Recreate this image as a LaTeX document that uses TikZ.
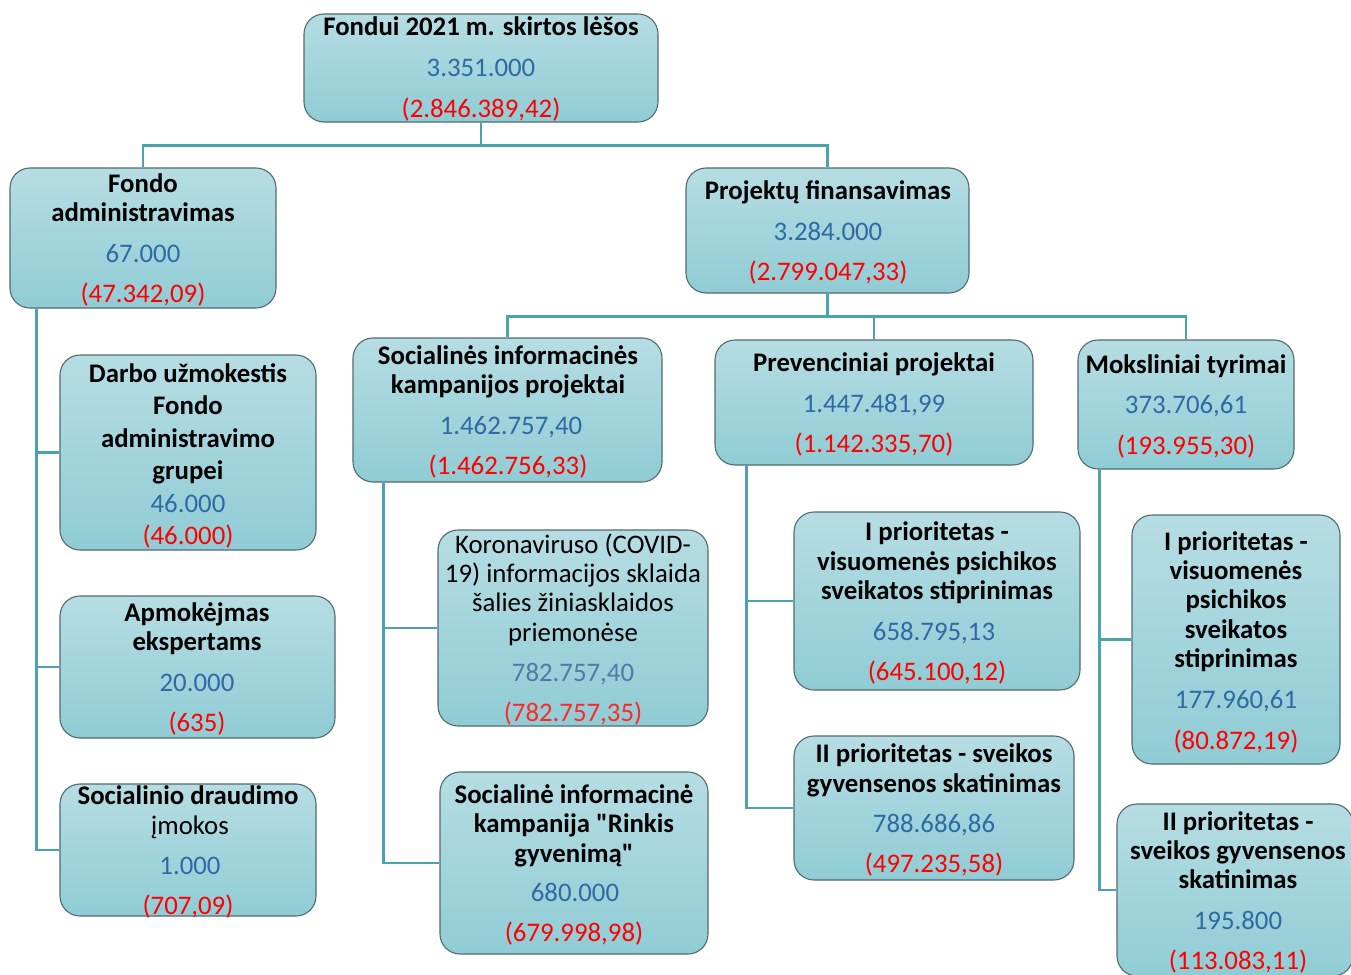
\documentclass[tikz,border=0pt]{standalone}
\usepackage{fontspec}
\setmainfont{Carlito}
\definecolor{boxtop}{RGB}{182,221,227}
\definecolor{boxbot}{RGB}{144,204,213}
\definecolor{bordc}{RGB}{80,108,112}
\definecolor{connc}{RGB}{75,163,174}
\definecolor{valblue}{RGB}{46,106,164}
\definecolor{valblue2}{RGB}{74,124,164}
\definecolor{valred}{RGB}{255,0,0}
\definecolor{valred2}{RGB}{255,40,40}
\begin{document}
\begin{tikzpicture}[x=1pt,y=-1pt,
  box/.style={draw=bordc, line width=1.1pt, rounded corners=20pt, top color=boxtop, bottom color=boxbot, inner sep=0pt},
  conn/.style={draw=connc, line width=2.6pt},
  txt/.style={anchor=base, yshift=-9pt, inner sep=0pt, font=\fontsize{26.8}{29}\selectfont},
  tb/.style={txt, font=\fontsize{26.8}{29}\selectfont\bfseries, text=black},
  tr/.style={txt, text=black},
  vb/.style={txt, text=valblue},
  vr/.style={txt, text=valred},
  vb2/.style={txt, text=valblue2},
  vr2/.style={txt, text=valred2}]
\useasboundingbox (0,0) rectangle (1351,974);
\clip (0,0) rectangle (1351,974);
% boxes
\node[box, minimum width=354pt, minimum height=108pt] (b1) at (481,68) {};
\node[box, minimum width=266pt, minimum height=140pt] (b2) at (143,238) {};
\node[box, minimum width=283pt, minimum height=125pt] (b3) at (827.5,230.5) {};
\node[box, minimum width=256pt, minimum height=195pt] (b4) at (188,452.5) {};
\node[box, minimum width=275pt, minimum height=142pt] (b5) at (197.5,667) {};
\node[box, minimum width=256pt, minimum height=132pt] (b6) at (188,850) {};
\node[box, minimum width=309pt, minimum height=144pt] (b7) at (507.5,410) {};
\node[box, minimum width=318pt, minimum height=125pt] (b8) at (874,402.5) {};
\node[box, minimum width=216pt, minimum height=129pt] (b9) at (1186,404.5) {};
\node[box, minimum width=270pt, minimum height=196pt] (b10) at (573,628) {};
\node[box, minimum width=268pt, minimum height=182pt] (b11) at (574,863) {};
\node[box, minimum width=286pt, minimum height=178pt] (b12) at (937,601) {};
\node[box, minimum width=280pt, minimum height=144pt] (b13) at (934,808) {};
\node[box, minimum width=208pt, minimum height=249pt] (b14) at (1236,639.5) {};
\node[box, minimum width=236pt, minimum height=172pt] (b15) at (1235,890) {};
% connectors
\draw[conn] (b1.south) -- ++(0,23) -| (b2.north);
\draw[conn] (b1.south) -- ++(0,23) -| (b3.north);
\draw[conn] (b3.south) -- ++(0,23) -| (b7.north);
\draw[conn] (b3.south) -- ++(0,23) -| (b8.north);
\draw[conn] (b3.south) -- ++(0,23) -| (b9.north);
\draw[conn] ([xshift=27pt]b2.south west) |- (b4.west);
\draw[conn] ([xshift=27pt]b2.south west) |- (b5.west);
\draw[conn] ([xshift=27pt]b2.south west) |- (b6.west);
\draw[conn] ([xshift=31pt]b7.south west) |- (b10.west);
\draw[conn] ([xshift=31pt]b7.south west) |- (b11.west);
\draw[conn] ([xshift=32pt]b8.south west) |- (b12.west);
\draw[conn] ([xshift=32pt]b8.south west) |- (b13.west);
\draw[conn] ([xshift=22pt]b9.south west) |- (b14.west);
\draw[conn] ([xshift=22pt]b9.south west) |- (b15.west);
% texts
\node[tb] (b1a) at (481,27) {Fondui 2021 m. skirtos lėšos};
\node[vb] (b1b) at (481,68) {3.351.000};
\node[vr] (b1c) at (481,108) {(2.846.389,42)};
\node[tb] (b2a) at (143,183) {Fondo};
\node[tb] (b2b) at (143,212) {administravimas};
\node[vb] (b2c) at (143,253) {67.000};
\node[vr] (b2d) at (143,293) {(47.342,09)};
\node[tb] (b3a) at (828,190) {Projektų finansavimas};
\node[vb] (b3b) at (828,231) {3.284.000};
\node[vr] (b3c) at (828,271) {(2.799.047,33)};
\node[tb] (b4a) at (188,373) {Darbo užmokestis};
\node[tb] (b4b) at (188,405) {Fondo};
\node[tb] (b4c) at (188,438) {administravimo};
\node[tb] (b4d) at (188,470) {grupei};
\node[vb] (b4e) at (188,503) {46.000};
\node[vr] (b4f) at (188,535) {(46.000)};
\node[tb] (b5a) at (197,612) {Apmokėjmas};
\node[tb] (b5b) at (197,641) {ekspertams};
\node[vb] (b5c) at (197,682) {20.000};
\node[vr] (b5d) at (197,722) {(635)};
\node[tb] (b6a) at (188,795) {Socialinio draudimo};
\node[tr] (b6b) at (190,825) {įmokos};
\node[vb] (b6c) at (190,865) {1.000};
\node[vr] (b6d) at (188,905) {(707,09)};
\node[tb] (b7a) at (508,355) {Socialinės informacinės};
\node[tb] (b7b) at (508,384) {kampanijos projektai};
\node[vb] (b7c) at (511,425) {1.462.757,40};
\node[vr] (b7d) at (508,465) {(1.462.756,33)};
\node[tb] (b8a) at (874,362) {Prevenciniai projektai};
\node[vb] (b8b) at (874,403) {1.447.481,99};
\node[vr] (b8c) at (874,443) {(1.142.335,70)};
\node[tb] (b9a) at (1186,364) {Moksliniai tyrimai};
\node[vb] (b9b) at (1186,404) {373.706,61};
\node[vr] (b9c) at (1186,445) {(193.955,30)};
\node[tr] (b10a) at (573,544) {Koronaviruso (COVID-};
\node[tr] (b10b) at (573,573) {19) informacijos sklaida};
\node[tr] (b10c) at (573,602) {šalies žiniasklaidos};
\node[tr] (b10d) at (573,632) {priemonėse};
\node[vb2] (b10e) at (573,672) {782.757,40};
\node[vr2] (b10f) at (573,712) {(782.757,35)};
\node[tb] (b11a) at (574,794) {Socialinė informacinė};
\node[tb] (b11b) at (574,823) {kampanija \textquotedbl Rinkis};
\node[tb] (b11c) at (574,853) {gyvenimą\textquotedbl};
\node[vb] (b11d) at (575,892) {680.000};
\node[vr] (b11e) at (574,932) {(679.998,98)};
\node[tb] (b12a) at (937,531) {I prioritetas -};
\node[tb] (b12b) at (937,561) {visuomenės psichikos};
\node[tb] (b12c) at (937,590) {sveikatos stiprinimas};
\node[vb] (b12d) at (934,631) {658.795,13};
\node[vr] (b12e) at (937,671) {(645.100,12)};
\node[tb] (b13a) at (934,753) {II prioritetas - sveikos};
\node[tb] (b13b) at (934,783) {gyvensenos skatinimas};
\node[vb] (b13c) at (934,823) {788.686,86};
\node[vr] (b13d) at (934,863) {(497.235,58)};
\node[tb] (b14a) at (1236,541) {I prioritetas -};
\node[tb] (b14b) at (1236,570) {visuomenės};
\node[tb] (b14c) at (1236,599) {psichikos};
\node[tb] (b14d) at (1236,629) {sveikatos};
\node[tb] (b14e) at (1236,658) {stiprinimas};
\node[vb] (b14f) at (1236,699) {177.960,61};
\node[vr] (b14g) at (1236,740) {(80.872,19)};
\node[tb] (b15a) at (1238,821) {II prioritetas -};
\node[tb] (b15b) at (1238,850) {sveikos gyvensenos};
\node[tb] (b15c) at (1238,879) {skatinimas};
\node[vb] (b15d) at (1238,920) {195.800};
\node[vr] (b15e) at (1238,960) {(113.083,11)};
\end{tikzpicture}
\end{document}
